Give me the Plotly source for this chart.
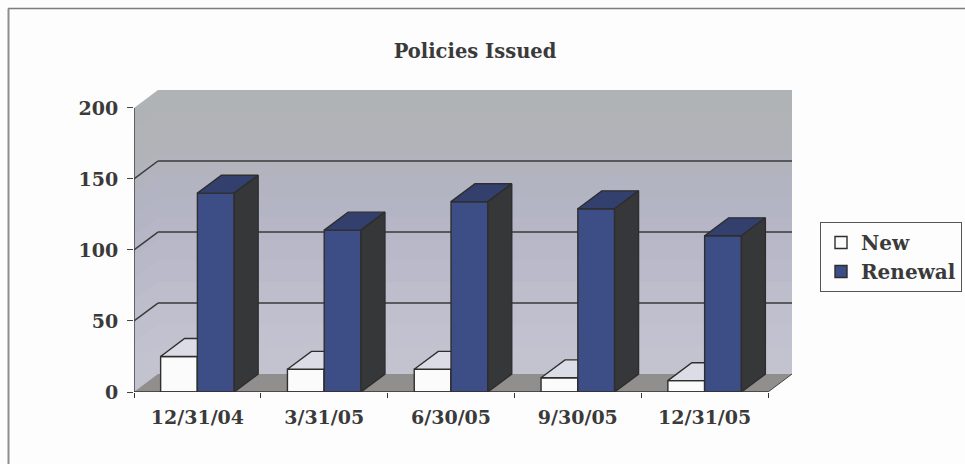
import plotly.graph_objects as go

categories = ["12/31/04", "3/31/05", "6/30/05", "9/30/05", "12/31/05"]
new_values = [25, 16, 16, 10, 8]
renewal_values = [140, 114, 134, 129, 110]
y_ticks = [0, 50, 100, 150, 200]

FONT = "DejaVu Serif"
INK = "#3a3a3a"
BG = "#fdfdfd"
BAR_W = 0.29
DX = 24 / 127
DY = 18 / 1.425
N = len(categories)
YMAX = y_ticks[-1]
centers = [i + 0.5 for i in range(N)]
PLOT_W = 658
PLOT_H = 302


def poly(xs, ys, color, axes):
    return go.Scatter(x=xs + xs[:1], y=ys + ys[:1], mode="lines", fill="toself", fillcolor=color,
                      line=dict(color="#2e2e2e", width=1.4), hoverinfo="skip", showlegend=False,
                      xaxis=axes[0], yaxis=axes[1])


def faces(values, left_edge, top_color, side_color, axes):
    out = []
    for c, v in zip(centers, values):
        l = c + left_edge
        r = l + BAR_W
        out.append(poly([l, r, r + DX, l + DX], [v, v, v + DY, v + DY], top_color, axes))
        out.append(poly([r, r + DX, r + DX, r], [0, DY, v + DY, v], side_color, axes))
    return out


fig = go.Figure()

shapes = []
# wall shading, painted from the top band downward so no seams show
bands = [(200, "#b0b3b5"), (185, "#b1b3b7"), (170, "#b1b3b9"), (155, "#b2b3bd"), (140, "#b3b4c1"),
         (125, "#b4b5c4"), (110, "#b6b6c6"), (95, "#b8b8c8"), (80, "#babaca"), (65, "#bdbdcc"),
         (50, "#bfbfce"), (35, "#c1c1cf"), (20, "#c3c3d0")]
for hi, col in bands:
    shapes.append(dict(type="path", xref="x", yref="y", layer="below", fillcolor=col, line_width=0,
                       path=f"M 0 0 L {DX} {DY} L {N + DX} {DY} L {N + DX} {hi + DY} L {DX} {hi + DY} L 0 {hi} Z"))
shapes.append(dict(type="path", xref="x", yref="y", layer="below", fillcolor="#918e8e", line_width=0,
                   path=f"M 0 0 L {N} 0 L {N + DX} {DY} L {DX} {DY} Z"))
for t in y_ticks[1:-1]:
    shapes.append(dict(type="line", xref="x", yref="y", x0=DX, x1=N + DX, y0=t + DY, y1=t + DY,
                       line=dict(color="#3a3a3a", width=1.5), layer="below"))
    shapes.append(dict(type="line", xref="x", yref="y", x0=0, x1=DX, y0=t, y1=t + DY,
                       line=dict(color="#3a3a3a", width=1.5), layer="below"))
shapes.append(dict(type="line", xref="x", yref="y", x0=0, x1=0, y0=0, y1=YMAX, line=dict(color="#444444", width=1.5)))
shapes.append(dict(type="line", xref="x", yref="y", x0=0, x1=N, y0=0, y1=0, line=dict(color="#333333", width=1.5)))
shapes.append(dict(type="line", xref="x", yref="y", x0=N, x1=N + DX, y0=0, y1=DY, line=dict(color="#444444", width=1)))
# page frame: only the top and left rules are visible in the source
shapes.append(dict(type="line", xref="paper", yref="paper", x0=-126 / PLOT_W, x1=(965 - 134) / PLOT_W,
                   y0=(392 - 8.5) / PLOT_H, y1=(392 - 8.5) / PLOT_H, line=dict(color="#7d7d7d", width=1.6), layer="below"))
shapes.append(dict(type="line", xref="paper", yref="paper", x0=-125.5 / PLOT_W, x1=-125.5 / PLOT_W,
                   y0=(392 - 8.5) / PLOT_H, y1=(392 - 464) / PLOT_H, line=dict(color="#8e8e8e", width=2), layer="below"))

fig.add_trace(go.Bar(x=centers, y=new_values, width=BAR_W, offset=-BAR_W, name="New",
                     marker=dict(color="#fbfbfb", line=dict(color="#2e2e2e", width=1.4)), hoverinfo="y"))
for tr in faces(new_values, -BAR_W, "#dcdce6", "#3a3a3a", ("x", "y")):
    fig.add_trace(tr)
fig.add_trace(go.Bar(x=centers, y=renewal_values, width=BAR_W, offset=0, name="Renewal", xaxis="x2", yaxis="y2",
                     marker=dict(color="#3d4d86", line=dict(color="#2e2e2e", width=1.4)), hoverinfo="y"))
for tr in faces(renewal_values, 0, "#33406e", "#363738", ("x2", "y2")):
    fig.add_trace(tr)

label_font = dict(family=FONT, size=19, color=INK, weight="bold")
fig.update_layout(
    width=965, height=464, autosize=False, barmode="overlay",
    paper_bgcolor=BG, plot_bgcolor="rgba(0,0,0,0)",
    margin=dict(l=134, r=173, t=90, b=72, pad=0, autoexpand=False),
    font=dict(family=FONT, size=19, color=INK),
    title=dict(text="<b>Policies Issued</b>", x=475 / 965, xanchor="center", y=1 - 51 / 464, yanchor="middle",
               font=dict(family=FONT, size=19.5, color=INK)),
    shapes=shapes,
    xaxis=dict(range=[0, N + DX], tickmode="array", tickvals=list(range(N + 1)), ticktext=[""] * (N + 1),
               ticks="outside", ticklen=5, tickcolor="#333333", showgrid=False, zeroline=False, showline=False),
    yaxis=dict(range=[0, YMAX + DY], tickmode="array", tickvals=y_ticks, ticks="outside", ticklen=6,
               tickcolor="#444444", showgrid=False, zeroline=False, showline=False,
               ticklabelstandoff=5, tickfont=label_font),
    xaxis2=dict(range=[0, N + DX], overlaying="x", tickmode="array", tickvals=centers, ticktext=categories,
                ticks="", showgrid=False, zeroline=False, showline=False, ticklabelstandoff=12,
                tickfont=label_font),
    yaxis2=dict(range=[0, YMAX + DY], overlaying="y", showticklabels=False, ticks="", showgrid=False,
                zeroline=False, showline=False),
    legend=dict(x=(820 - 134) / PLOT_W, xanchor="left", y=(392 - 222) / PLOT_H, yanchor="top",
                bgcolor=BG, bordercolor="#555555", borderwidth=1, traceorder="normal",
                font=dict(family=FONT, size=20, color=INK, weight="bold"), itemwidth=30),
)
fig.write_html("out.html", config={"displayModeBar": False},
               post_script="document.body.style.margin='0';document.body.style.background='%s';" % BG)
